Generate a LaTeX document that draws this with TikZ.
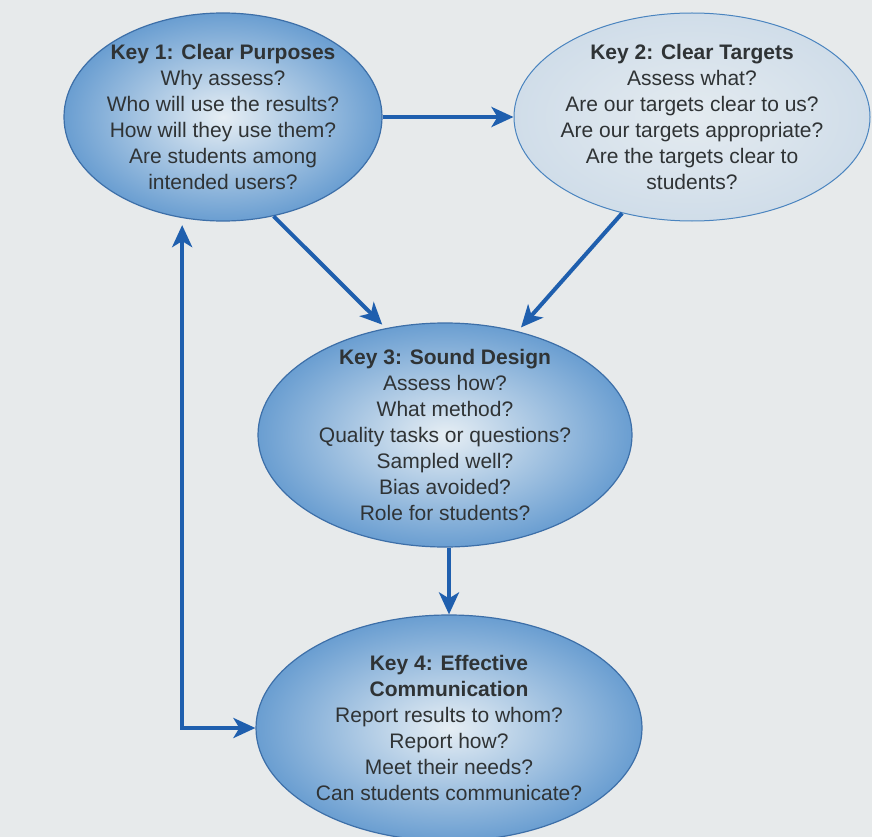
\documentclass[tikz,border=0pt]{standalone}
\usepackage{fontspec}
\setmainfont{Liberation Sans}
\usetikzlibrary{shapes.geometric, arrows.meta}

\definecolor{pagebg}{HTML}{E7EAEB}
\definecolor{ovaledge}{HTML}{6A9ED1}
\definecolor{ovalcentre}{HTML}{E6EEF4}
\definecolor{ovalline}{HTML}{3D6FA8}
\definecolor{paleedge}{HTML}{D0DDE9}
\definecolor{palecentre}{HTML}{E4EBF0}
\definecolor{paleline}{HTML}{4A84BF}
\definecolor{flowblue}{HTML}{1F5FAE}
\definecolor{keytext}{HTML}{2F3335}

\begin{document}
\begin{tikzpicture}[x=1pt, y=-1pt, % pixel units, y runs downwards
    keyoval/.style={ellipse, draw=ovalline, line width=1.2pt,
      inner color=ovalcentre, outer color=ovaledge,
      inner sep=-40pt, align=center, text=keytext,
      font=\fontsize{21}{26}\selectfont},
    paleoval/.style={keyoval, draw=paleline, line width=1pt,
      inner color=palecentre, outer color=paleedge},
    flowarrow/.style={draw=flowblue, line width=4pt,
      -{Stealth[length=22pt, width=20pt, inset=6pt]}}]

	% Page with its background
	\useasboundingbox (0,0) rectangle (872,837);
	\fill[pagebg] (0,0) rectangle (872,837);
	\clip (0,0) rectangle (872,837);

	% The four keys
	\node[keyoval, minimum width=318pt, minimum height=208pt] (k1) at (223,117)
		{\textbf{Key 1: Clear Purposes}\\Why assess?\\Who will use the results?\\How will they use them?\\Are students among\\intended users?};
	\node[paleoval, minimum width=356pt, minimum height=208pt] (k2) at (692,117)
		{\textbf{Key 2: Clear Targets}\\Assess what?\\Are our targets clear to us?\\Are our targets appropriate?\\Are the targets clear to\\students?};
	\node[keyoval, minimum width=374pt, minimum height=224pt] (k3) at (445,435)
		{\textbf{Key 3: Sound Design}\\Assess how?\\What method?\\Quality tasks or questions?\\Sampled well?\\Bias avoided?\\Role for students?};
	\node[keyoval, minimum width=386pt, minimum height=226pt] (k4) at (449,728)
		{\textbf{Key 4: Effective}\\\textbf{Communication}\\Report results to whom?\\Report how?\\Meet their needs?\\Can students communicate?};

	% Connections between the keys
	\draw[flowarrow] (k1.east) -- (k2.west);
	\draw[flowarrow, shorten >=5pt] (k1.-63) -- (k3.119);
	\draw[flowarrow, shorten >=5pt] (k2.234) -- (k3.55);
	\draw[flowarrow] (k3.south -| k4.north) -- (k4.north);

	% Feedback loop from communication back to purposes
	\draw[flowarrow, {Stealth[length=22pt, width=20pt, inset=6pt]}-{Stealth[length=22pt, width=20pt, inset=6pt]}, shorten <=7pt]
		(k1.248) |- (k4.west);

\end{tikzpicture}
\end{document}
